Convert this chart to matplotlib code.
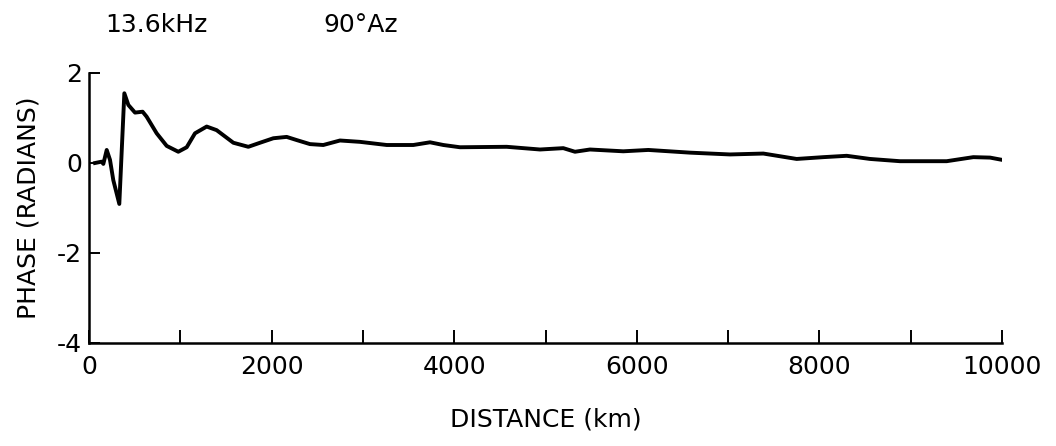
import matplotlib
matplotlib.use("Agg")
import matplotlib.pyplot as plt
from matplotlib.ticker import MultipleLocator

distance = [66, 139, 157, 194, 230, 266, 332, 387, 431, 504, 587, 631, 741,
            851, 978, 1070, 1161, 1289, 1398, 1581, 1745, 1873, 2019, 2165,
            2274, 2420, 2566, 2749, 2968, 3261, 3552, 3735, 3881, 4063, 4575,
            4940, 5195, 5323, 5487, 5852, 6126, 6583, 7021, 7386, 7751, 8043,
            8299, 8554, 8883, 9138, 9394, 9686, 9869, 10000]
phase = [0.0, 0.03, -0.02, 0.29, 0.07, -0.38, -0.91, 1.55, 1.29, 1.12, 1.14,
         1.03, 0.66, 0.38, 0.25, 0.35, 0.66, 0.81, 0.73, 0.45, 0.36, 0.45,
         0.55, 0.58, 0.51, 0.42, 0.40, 0.50, 0.47, 0.40, 0.40, 0.46, 0.40,
         0.35, 0.36, 0.30, 0.33, 0.25, 0.30, 0.26, 0.29, 0.23, 0.19, 0.21,
         0.09, 0.13, 0.16, 0.09, 0.04, 0.04, 0.04, 0.13, 0.12, 0.07]

x_ticks = [0, 2000, 4000, 6000, 8000, 10000]
y_ticks = [-4, -2, 0, 2]

fig = plt.figure(figsize=(10.56, 4.46), dpi=100)
ax = fig.add_axes([89 / 1056, 1 - 343 / 446, 913 / 1056, 270 / 446])

ax.plot(distance, phase, color="black", lw=2.8, solid_joinstyle="round")

ax.set_xlim(0, 10000)
ax.set_ylim(-4, 2)
ax.set_xticks(x_ticks)
ax.set_xticklabels([str(v) for v in x_ticks])
ax.xaxis.set_minor_locator(MultipleLocator(1000))
ax.set_yticks(y_ticks)
ax.set_yticklabels([str(v) for v in y_ticks])

for s in ["top", "right"]:
    ax.spines[s].set_visible(False)
for s in ["left", "bottom"]:
    ax.spines[s].set_linewidth(1.8)

ax.tick_params(axis="x", which="both", direction="in", length=9.5, width=1.4,
               labelsize=18, pad=9)
ax.tick_params(axis="y", direction="in", length=8, width=1.4, labelsize=18, pad=5)

ax.set_xlabel("DISTANCE (km)", fontsize=18, labelpad=20)
ax.set_ylabel("PHASE (RADIANS)", fontsize=18, labelpad=12)

fig.text(105 / 1056, 1 - 25 / 446, "13.6kHz", fontsize=18, va="center", ha="left")
fig.text(323 / 1056, 1 - 25 / 446, "90°Az", fontsize=18, va="center", ha="left")

fig.savefig("out.png", dpi=100)
